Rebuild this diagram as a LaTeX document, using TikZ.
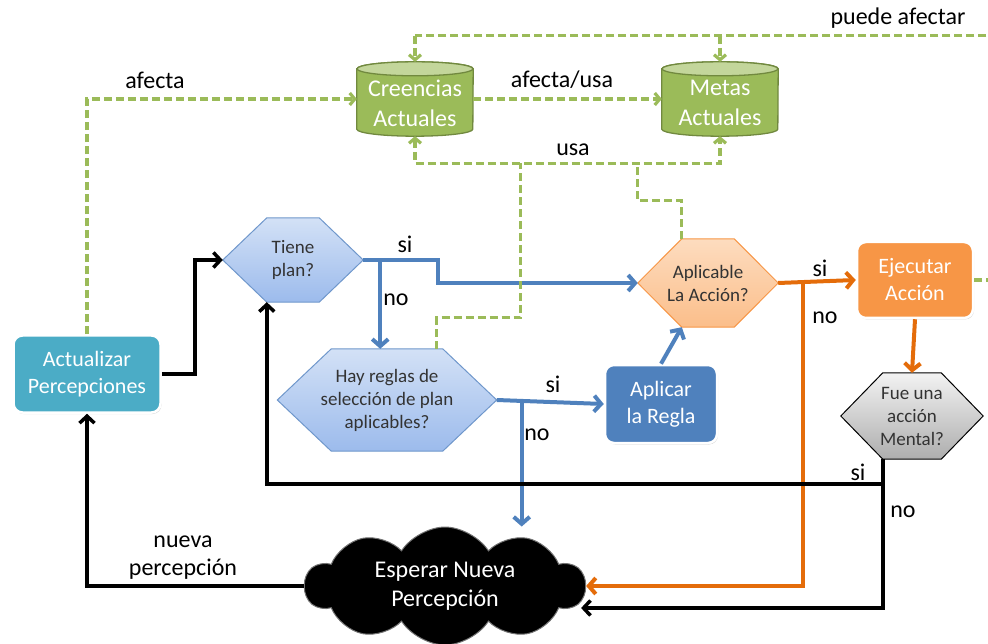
\documentclass[tikz,border=0pt]{standalone}
\usepackage{fontspec}
\setmainfont{Carlito}
\usetikzlibrary{arrows.meta,shapes.geometric,shapes.symbols,shadows,backgrounds,calc}

\definecolor{grn}{HTML}{9BBB59}
\definecolor{grndark}{HTML}{71893F}
\definecolor{grnlight}{HTML}{C3D69B}
\definecolor{blu}{HTML}{4F81BD}
\definecolor{bluedge}{HTML}{6F97CB}
\definecolor{blutop}{HTML}{D3E1F6}
\definecolor{blubot}{HTML}{9CBBEC}
\definecolor{aqua}{HTML}{4BACC6}
\definecolor{org}{HTML}{F79646}
\definecolor{orgline}{HTML}{E46C0A}
\definecolor{orgtop}{HTML}{FDDCBF}
\definecolor{orgbot}{HTML}{FBBE8A}

% hexagonal decision outline drawn behind a (borderless) text node
\newcommand\hexoutline[3]{%
  \begin{scope}[on background layer]
    \path[#3] (#1.west) -- ([xshift=#2]#1.north west) -- ([xshift=-#2]#1.north east)
      -- (#1.east) -- ([xshift=-#2]#1.south east) -- ([xshift=#2]#1.south west) -- cycle;
  \end{scope}}

% upright data-store cylinder drawn round a (borderless) node; #2 = ellipse half height
\newcommand\storeoutline[2]{%
  \begin{scope}[on background layer]
    \path[fill=grn, draw=grndark, line width=1.3pt]
      ([yshift=-#2]#1.north west) -- ([yshift=#2]#1.south west)
      arc[start angle=180, end angle=360, x radius=58pt, y radius=#2]
      -- ([yshift=-#2]#1.north east)
      arc[start angle=0, end angle=180, x radius=58pt, y radius=#2] -- cycle;
    \path[fill=grnlight, draw=grndark, line width=1.3pt]
      ([yshift=-#2]#1.north) ellipse[x radius=58pt, y radius=#2];
  \end{scope}}

\begin{document}
\begin{tikzpicture}[x=1pt,y=-1pt,
  lbl/.style={font=\fontsize{24}{28}\selectfont, align=center, inner sep=0pt},
  procbox/.style={rounded corners=9pt, draw=white, line width=2.5pt, text=white,
    align=center, font=\fontsize{22}{27}\selectfont,
    drop shadow={shadow xshift=1pt, shadow yshift=-1.5pt, opacity=0.3}},
  store/.style={minimum width=116pt, minimum height=74pt, inner sep=0pt},
  storetext/.style={text=white, align=center, font=\fontsize{24}{30}\selectfont, inner sep=0pt},
  hexnode/.style={align=center, font=\fontsize{19}{23}\selectfont, text=black!80, inner sep=0pt},
  bluehex/.style={top color=blutop, bottom color=blubot, draw=bluedge, line width=1pt},
  orghex/.style={top color=orgtop, bottom color=orgbot, draw=org, line width=1pt},
  grayhex/.style={top color=black!5, bottom color=black!32, draw=black, line width=1pt},
  blk/.style={draw=black, line width=3.5pt, -{Straight Barb[length=7pt,width=15pt]}},
  bl/.style={draw=blu, line width=4pt, -{Straight Barb[length=7pt,width=16pt]}},
  orl/.style={draw=orgline, line width=4pt, -{Straight Barb[length=7pt,width=16pt]}},
  gd/.style={draw=grn, line width=3.2pt, dash pattern=on 8pt off 4pt},
  gda/.style={gd, -{Straight Barb[length=5pt,width=12pt]}},
]
\useasboundingbox (0,0) rectangle (988,644);

% ---------- stores ----------
\node[store] (cre) at (415,99) {};
\storeoutline{cre}{7pt}
\node[storetext] (cre-t) at ([yshift=-4pt]cre.center) {Creencias\\Actuales};
\node[store] (met) at (720,99) {};
\storeoutline{met}{7pt}
\node[storetext] (met-t) at ([yshift=-4pt]met.center) {Metas\\Actuales};

% ---------- process boxes ----------
\node[procbox, fill=aqua, minimum width=147pt, minimum height=77pt] (act) at (87,374) {Actualizar\\Percepciones};
\node[procbox, fill=blu, minimum width=112pt, minimum height=78pt] (apr) at (661,404) {Aplicar\\la Regla};
\node[procbox, fill=org, minimum width=116pt, minimum height=76pt] (eje) at (915,280) {Ejecutar\\Acción};

% ---------- decisions ----------
\node[hexnode, minimum width=140pt, minimum height=84pt] (tiene) at (293,260) {Tiene\\plan?};
\hexoutline{tiene}{44pt}{bluehex}
\node[hexnode, minimum width=219pt, minimum height=102pt] (hay) at (387,400) {Hay reglas de\\selección de plan\\aplicables?};
\hexoutline{hay}{54pt}{bluehex}
\node[hexnode, minimum width=140pt, minimum height=88pt] (apl) at (708,283) {Aplicable\\La Acción?};
\hexoutline{apl}{44pt}{orghex}
\node[hexnode, minimum width=142pt, minimum height=86pt] (fue) at (912,416) {Fue una\\acción\\Mental?};
\hexoutline{fue}{42pt}{grayhex}

% ---------- waiting cloud ----------
\node[cloud, cloud puffs=10, cloud puff arc=115, aspect=2.4, fill=black, draw=black!55,
  line width=1pt, minimum width=280pt, minimum height=116pt, text=white, align=center,
  font=\fontsize{24}{29}\selectfont] (esp) at (445,586) {Esperar Nueva\\Percepción};

% ---------- main flow ----------
\draw[blk] (act.east) -- ++(33,0) |- (tiene.west);
\draw[bl] (tiene.east) -- ++(75,0) |- (apl.west);
\draw[bl] ([xshift=17pt]tiene.east) -- ([xshift=17pt]tiene.east |- hay.north);
\draw[bl] (hay.east) -- (apr.west);
\draw[bl] ([xshift=25pt]hay.east) -- ([xshift=25pt]hay.east |- esp.north);
\draw[bl] (apr.north) -- ([xshift=44pt]apl.south west);
\draw[orl] (apl.east) -- (eje.west);
\draw[orl] ([xshift=25pt]apl.east) |- (esp.east);
\draw[orl] (eje.south) -- (fue.north);
\draw[blk] ([xshift=42pt]fue.south west) |- ([xshift=-5pt,yshift=-22pt]esp.east);
\draw[blk] ([xshift=42pt]fue.south west) ++(0,25) -| ([xshift=44pt]tiene.south west);
\draw[blk] (esp.west) -| (act.south);

% ---------- belief / goal usage ----------
\draw[gda] (act.north) |- (cre.west);
\draw[gda] (cre.east) -- (met.west);
\coordinate (ulin) at ([yshift=-27pt]cre.south);
\draw[gd, {Straight Barb[length=5pt,width=12pt]}-{Straight Barb[length=5pt,width=12pt]}]
  (cre.south) -- (ulin) -| (met.south);
\draw[gd] ([xshift=-60pt]hay.north east) -- ++(0,-31) -- ++(84,0) coordinate (v1) -- (v1 |- ulin);
\draw[gd] ([xshift=44pt]apl.north west) -- ++(0,-38) -- ++(-44,0) coordinate (v2) -- (v2 |- ulin);
\draw[gd] (eje.east) -- ++(40,0) |- ([yshift=26pt]cre.north) coordinate (ctop);
\draw[gda] (ctop) -- (cre.north);
\draw[gda] (met.north |- ctop) -- (met.north);

% ---------- labels ----------
\node[lbl] (l-afecta) at (155,80) {afecta};
\node[lbl] (l-afusa) at (562,80) {afecta/usa};
\node[lbl] (l-usa) at (573,150) {usa};
\node[lbl] (l-puede) at (898,18) {puede afectar};
\node[lbl] (l-si1) at (405,244) {si};
\node[lbl] (l-no1) at (396,300) {no};
\node[lbl] (l-si2) at (553,384) {si};
\node[lbl] (l-no2) at (537,435) {no};
\node[lbl] (l-si3) at (820,268) {si};
\node[lbl] (l-no3) at (825,318) {no};
\node[lbl] (l-si4) at (858,472) {si};
\node[lbl] (l-no4) at (903,512) {no};
\node[lbl] (l-nueva) at (183,558) {nueva\\percepción};
\end{tikzpicture}
\end{document}
